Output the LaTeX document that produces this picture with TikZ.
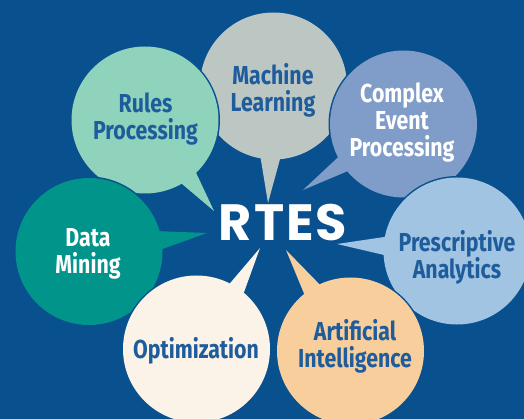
\documentclass[tikz,border=0pt]{standalone}
\usepackage{fontspec}
\newfontfamily\lblfont{Fira Sans}[FakeStretch=0.82]
\newfontfamily\rtesfont{Poppins}[LetterSpace=4]
\definecolor{bgblue}{RGB}{9,80,142}
\definecolor{mlgray}{RGB}{188,198,195}
\definecolor{rulesgreen}{RGB}{144,211,189}
\definecolor{cepblue}{RGB}{128,156,200}
\definecolor{dmteal}{RGB}{0,148,138}
\definecolor{palight}{RGB}{160,196,226}
\definecolor{optcream}{RGB}{251,243,231}
\definecolor{aiorange}{RGB}{248,207,156}
\definecolor{lblblue}{RGB}{30,92,155}
\tikzset{
  bub/.style={circle, inner sep=0pt, minimum size=147pt},
  lbl/.style={font=\lblfont\bfseries\fontsize{26}{27}\selectfont, align=center, inner sep=0pt, text=lblblue},
  lblw/.style={lbl, text=white},
}
% \mybubble{name}{colour}{center}{angle1}{angle2}{tip}
\newcommand{\mybubble}[6]{%
  \path (#3) node[bub] (#1) {};
  \coordinate (#1tip) at (#6);
  \draw[bgblue, line width=3pt, line join=round] (#1) circle[radius=73.5pt];
  \draw[bgblue, line width=3pt, line join=round] (#1.#4) -- (#1tip) -- (#1.#5) -- cycle;
  \fill[#2] (#1) circle[radius=73.5pt];
  \fill[#2] (#1.#4) -- (#1tip) -- (#1.#5) -- (#1.center) -- cycle;
}
\begin{document}
\begin{tikzpicture}[x=1pt, y=-1pt]
\fill[bgblue] (0,0) rectangle (524,419);
\useasboundingbox (0,0) rectangle (524,419);
\mybubble{ml}{mlgray}{273.5,86}{260}{275}{268,203}
\mybubble{rp}{rulesgreen}{145,120}{300}{314}{214,211}
\mybubble{cep}{cepblue}{403.5,124}{207}{220}{303,190}
\mybubble{dm}{dmteal}{89,251.5}{2}{16}{207,233}
\mybubble{pa}{palight}{457,251}{169}{183}{337,244}
\mybubble{opt}{optcream}{196.5,349}{50}{63}{260,248}
\mybubble{ai}{aiorange}{350.5,351}{115}{129}{286,250}
\node[lbl] (mlt) at (273,90.5) {Machine\\Learning};
\node[lbl] (rpt) at (145.5,119.5) {Rules\\Processing};
\node[lblw] (cept) at (402,122.5) {Complex\\Event\\Processing};
\node[lblw] (dmt) at (88,253.5) {Data\\Mining};
\node[lbl] (pat) at (457,257) {Prescriptive\\Analytics};
\node[lbl] (optt) at (196,350.5) {Optimization};
\node[lbl] (ait) at (355,346.5) {Artificial\\Intelligence};
\node[text=white, inner sep=0pt, font=\rtesfont\bfseries\fontsize{51}{51}\selectfont] (rtes) at (283,222.5) {RTES};
\end{tikzpicture}
\end{document}
